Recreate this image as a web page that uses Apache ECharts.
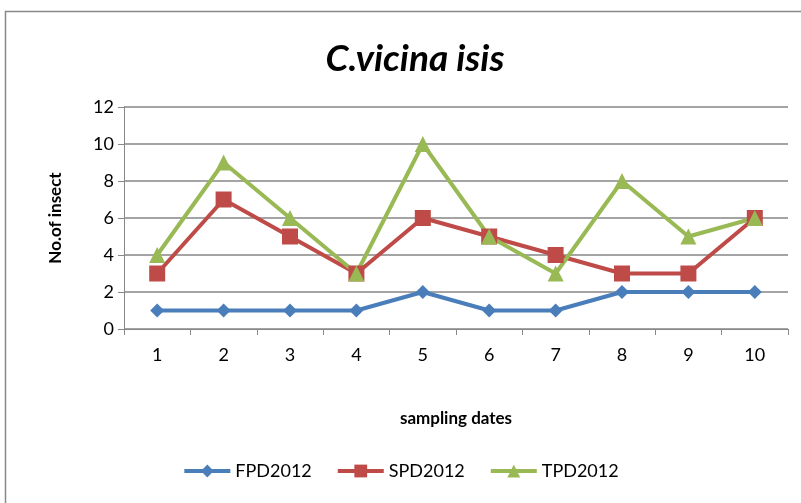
<!DOCTYPE html>
<html>
<head>
<meta charset="utf-8">
<script src="https://cdn.jsdelivr.net/npm/echarts@6/dist/echarts.min.js"></script>
<style>
  html, body { margin: 0; padding: 0; background: #fff; }
  #chart { width: 801px; height: 503px; }
</style>
</head>
<body>
<div id="chart"></div>
<script>
// sampling dates
const dates = ['1', '2', '3', '4', '5', '6', '7', '8', '9', '10'];
// no. of insect per series
const fpd2012 = [1, 1, 1, 1, 2, 1, 1, 2, 2, 2];
const spd2012 = [3, 7, 5, 3, 6, 5, 4, 3, 3, 6];
const tpd2012 = [4, 9, 6, 3, 10, 5, 3, 8, 5, 6];

const myChart = echarts.init(document.getElementById('chart'));
const font = 'Lato, "Open Sans", sans-serif';

const option = {
  animation: false,
  backgroundColor: '#fff',
  title: {
    text: 'C.vicina isis',
    left: 410,
    top: 36,
    textAlign: 'center',
    textStyle: {
      fontFamily: font,
      fontSize: 37,
      fontStyle: 'italic',
      fontWeight: 'bold',
      color: '#000'
    }
  },
  // outer chart frame
  graphic: [
    {
      type: 'rect',
      shape: { x: 5.5, y: 11.5, width: 820, height: 520 },
      style: { fill: 'none', stroke: '#888', lineWidth: 1.5 },
      silent: true
    }
  ],
  legend: {
    bottom: 18,
    left: 'center',
    itemWidth: 46,
    itemHeight: 16,
    itemGap: 24,
    lineStyle: { width: 4 },
    textStyle: { fontFamily: font, fontSize: 18, color: '#000' },
    data: ['FPD2012', 'SPD2012', 'TPD2012']
  },
  grid: {
    left: 124,
    right: 13,
    top: 107,
    bottom: 174
  },
  xAxis: {
    type: 'category',
    data: dates,
    boundaryGap: true,
    name: 'sampling dates',
    nameLocation: 'middle',
    nameGap: 81,
    nameTextStyle: { fontFamily: font, fontSize: 17, fontWeight: 'bold', color: '#000' },
    axisLine: { lineStyle: { color: '#888', width: 1 } },
    axisTick: { show: true, length: 6, lineStyle: { color: '#888' } },
    axisLabel: { fontFamily: font, fontSize: 18, color: '#000', margin: 17 }
  },
  yAxis: {
    type: 'value',
    min: 0,
    max: 12,
    interval: 2,
    name: 'No.of insect',
    nameLocation: 'middle',
    nameGap: 60,
    nameTextStyle: { fontFamily: font, fontSize: 17, fontWeight: 'bold', color: '#000' },
    axisLine: { show: true, lineStyle: { color: '#888', width: 1 } },
    axisTick: { show: true, length: 6, lineStyle: { color: '#888' } },
    axisLabel: { fontFamily: font, fontSize: 18, color: '#000', margin: 10 },
    splitLine: { show: true, lineStyle: { color: '#868686', width: 1.5 } }
  },
  series: [
    {
      name: 'FPD2012',
      type: 'line',
      data: fpd2012,
      symbol: 'diamond',
      symbolSize: 14,
      color: '#4A7EBB',
      lineStyle: { width: 4 }
    },
    {
      name: 'SPD2012',
      type: 'line',
      data: spd2012,
      symbol: 'rect',
      symbolSize: 16,
      color: '#BE4B48',
      lineStyle: { width: 4 }
    },
    {
      name: 'TPD2012',
      type: 'line',
      data: tpd2012,
      symbol: 'triangle',
      symbolSize: 16,
      color: '#98B954',
      lineStyle: { width: 4 }
    }
  ]
};

myChart.setOption(option);
</script>
</body>
</html>
